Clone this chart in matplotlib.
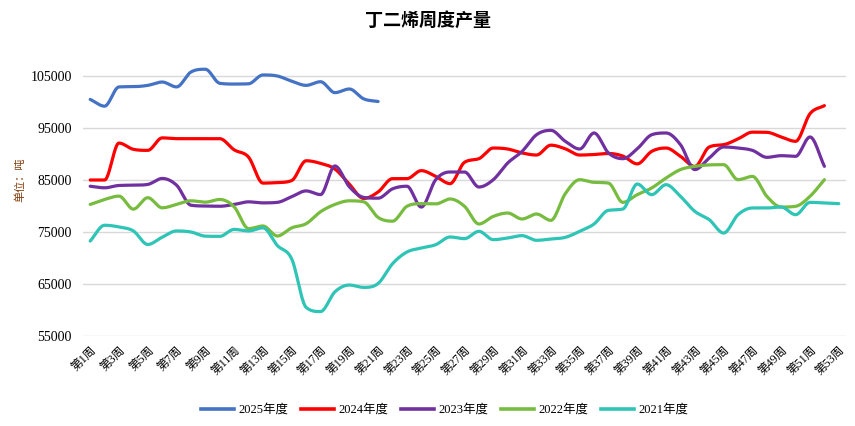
import numpy as np
import matplotlib
matplotlib.use("Agg")
import matplotlib.pyplot as plt
from matplotlib.lines import Line2D

weeks = list(range(1, 54))
tick_labels = [f"第{w}周" for w in range(1, 54, 2)]

y2025 = [100500, 99200, 102900, 102950, 103200, 103840, 102900, 105770, 106300, 103600,
         103450, 103500, 105200, 105000, 104000, 103200, 103900, 101800, 102500, 100600, 100100]
y2024 = [85000, 85000, 92100, 90900, 90700, 93100, 92950, 92950, 92950, 92950,
         90800, 89400, 84400, 84500, 84900, 88700, 88200, 87100, 84200, 81450,
         82700, 85260, 85260, 86800, 85700, 84300, 88400, 89100, 91150, 90960,
         90200, 89800, 91700, 91000, 89800, 89900, 90100, 89600, 88100, 90500,
         91150, 89550, 87600, 91350, 91800, 92900, 94200, 94170, 93270, 92440,
         97750, 99300]
y2023 = [83800, 83500, 83950, 84000, 84150, 85300, 84000, 80150, 80000, 79950,
         80300, 80800, 80600, 80700, 81800, 82900, 82200, 87700, 83700, 81650,
         81500, 83300, 83800, 79800, 85060, 86540, 86540, 83650, 85060, 88270,
         90500, 93700, 94550, 92440, 90960, 94040, 90200, 89100, 91000, 93700,
         94040, 91800, 87000, 89230, 91350, 91150, 90700, 89360, 89680, 89550,
         93270, 87630]
y2022 = [80300, 81260, 81900, 79400, 81600, 79650, 80300, 81000, 80740, 81260,
         79840, 75650, 76160, 74230, 75800, 76600, 78900, 80300, 81000, 80800,
         77800, 77080, 79940, 80450, 80400, 81350, 79940, 76540, 78000, 78650,
         77500, 78460, 77240, 82370, 85060, 84550, 84400, 80700, 82180, 83460,
         85380, 87000, 87630, 87900, 87950, 85060, 85700, 81860, 79800, 79940,
         81860, 85060]
y2021 = [73260, 76300, 75970, 75200, 72600, 74000, 75200, 75000, 74200, 74160,
         75500, 75200, 75800, 72400, 69800, 60500, 59700, 63500, 64800, 64350,
         65100, 68900, 71150, 71920, 72560, 74040, 73720, 75130, 73530, 73850,
         74300, 73400, 73650, 73970, 75130, 76540, 79170, 79420, 84230, 82180,
         84100, 81860, 78970, 77370, 74800, 78330, 79620, 79620, 79800, 78330,
         80700, 80580, 80450]

series = [("2025年度", y2025, "#4472C4"),
          ("2024年度", y2024, "#FF0000"),
          ("2023年度", y2023, "#7030A0"),
          ("2022年度", y2022, "#77BC3F"),
          ("2021年度", y2021, "#2EC4B6")]


def smooth(x, y, n=24):
    """Monotone cubic Hermite (Fritsch-Carlson) rendering of the polyline."""
    x = np.asarray(x, float)
    y = np.asarray(y, float)
    k = len(x)
    h = np.diff(x)
    d = np.diff(y) / h
    m = np.zeros(k)
    m[0], m[-1] = d[0], d[-1]
    for i in range(1, k - 1):
        if d[i - 1] * d[i] <= 0:
            m[i] = 0.0
        else:
            m[i] = (d[i - 1] + d[i]) / 2
    for i in range(k - 1):
        if d[i] == 0:
            m[i] = m[i + 1] = 0.0
        else:
            a, b = m[i] / d[i], m[i + 1] / d[i]
            s = a * a + b * b
            if s > 9:
                tau = 3 / np.sqrt(s)
                m[i], m[i + 1] = tau * a * d[i], tau * b * d[i]
    xs, ys = [], []
    t = np.linspace(0, 1, n, endpoint=False)
    for i in range(k - 1):
        h00 = 2 * t ** 3 - 3 * t ** 2 + 1
        h10 = t ** 3 - 2 * t ** 2 + t
        h01 = -2 * t ** 3 + 3 * t ** 2
        h11 = t ** 3 - t ** 2
        xs.append(x[i] + t * h[i])
        ys.append(h00 * y[i] + h10 * h[i] * m[i] + h01 * y[i + 1] + h11 * h[i] * m[i + 1])
    xs.append([x[-1]])
    ys.append([y[-1]])
    return np.concatenate(xs), np.concatenate(ys)


serif_cjk = ["Liberation Serif", "Noto Sans CJK SC"]

fig = plt.figure(figsize=(8.55, 4.26), dpi=100)
ax = fig.add_axes([83 / 855, 1 - 336 / 426, (846 - 83) / 855, (336 - 50) / 426])

handles = []
for i, (name, vals, col) in enumerate(series):
    xs, ys = smooth(weeks[:len(vals)], vals)
    ax.plot(xs, ys, color=col, lw=2.3, solid_capstyle="round", zorder=3 + i)
    handles.append(Line2D([0], [0], color=col, lw=2.6, label=name))

ax.set_xlim(0.5, 53.5)
ax.set_ylim(55000, 110000)
ax.set_yticks(np.arange(55000, 105001, 10000))
ax.set_yticklabels([str(v) for v in range(55000, 105001, 10000)],
                   fontfamily="Liberation Serif", fontsize=10)
ax.set_xticks(list(range(1, 54, 2)))
ax.set_xticklabels(tick_labels, rotation=45, ha="right", va="top",
                   rotation_mode="anchor", fontfamily=serif_cjk, fontsize=8.5)
ax.tick_params(axis="both", length=0)
ax.tick_params(axis="y", pad=8)
ax.tick_params(axis="x", pad=6)
ax.grid(axis="y", color="#D9D9D9", lw=1)
ax.set_axisbelow(True)
for s in ax.spines.values():
    s.set_visible(False)

fig.text(0.5, 1 - 20 / 426, "丁二烯周度产量", ha="center", va="center",
         fontfamily="Noto Sans CJK SC", fontweight="bold", fontsize=13)
fig.text(20 / 855, 1 - 180 / 426, "单位：吨", rotation=90, ha="center", va="center",
         fontfamily="Noto Sans CJK SC", fontsize=8, color="#843C0C")

fig.legend(handles=handles, loc="center", bbox_to_anchor=(445 / 855, 1 - 410 / 426),
           ncol=5, frameon=False, prop={"family": serif_cjk, "size": 9},
           handlelength=2.6, columnspacing=1.0, handletextpad=0.4)

fig.savefig("out.png", dpi=100)
